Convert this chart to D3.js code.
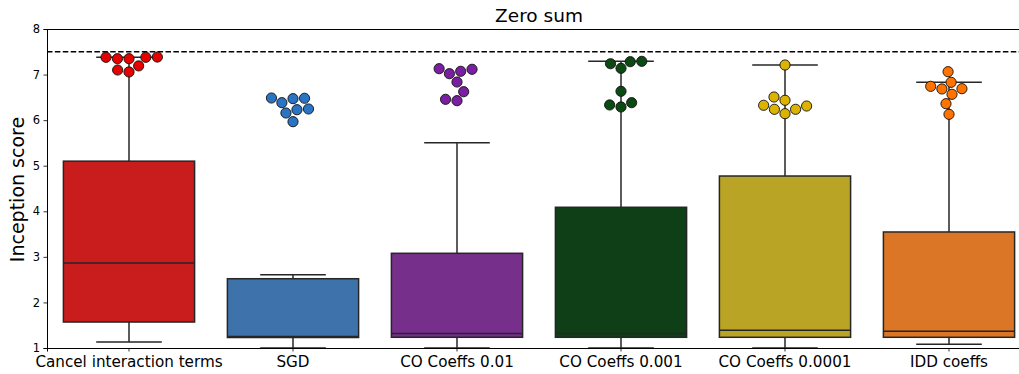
<!DOCTYPE html>
<html>
<head>
<meta charset="utf-8">
<script src="https://cdn.jsdelivr.net/npm/d3@7"></script>
<style>
  html, body { margin: 0; padding: 0; background: #fff; }
  svg { display: block; font-family: "DejaVu Sans", sans-serif; }
</style>
</head>
<body>
<svg id="chart" width="1019" height="374"></svg>
<script>
// Methods compared
const categories = ["Cancel interaction terms", "SGD", "CO Coeffs 0.01", "CO Coeffs 0.001", "CO Coeffs 0.0001", "IDD coeffs"];

// Box statistics over the training runs
const whiskerLow  = [1.13, 1.00, 1.00, 1.00, 1.00, 1.08];
const q1          = [1.57, 1.23, 1.235, 1.235, 1.235, 1.235];
const median      = [2.865, 1.25, 1.32, 1.32, 1.388, 1.365];
const q3          = [5.10, 2.52, 3.078, 4.088, 4.774, 3.546];
const whiskerHigh = [7.38, 2.61, 5.505, 7.29, 7.21, 6.83];

// Final scores of each run (swarm)
const finalCancel = [7.379, 7.348, 7.348, 7.379, 7.385, 7.10, 7.057, 7.19];
const finalSGD    = [6.48, 6.383, 6.471, 6.486, 6.157, 6.229, 6.245, 5.966];
const finalCO1    = [7.129, 7.019, 7.072, 7.116, 6.837, 6.624, 6.457, 6.427];
const finalCO2    = [7.238, 7.137, 7.282, 7.291, 6.633, 6.333, 6.289, 6.383];
const finalCO3    = [7.21, 6.508, 6.436, 6.326, 6.238, 6.238, 6.31, 6.142];
const finalIDD    = [7.063, 6.83, 6.69, 6.684, 6.742, 6.567, 6.361, 6.128];
const finalScores = [finalCancel, finalSGD, finalCO1, finalCO2, finalCO3, finalIDD];

// Reference score line
const referenceScore = 7.5;

const yTicks = [1, 2, 3, 4, 5, 6, 7, 8];

const boxColors   = ["#c91d1d", "#3d72aa", "#762f8b", "#0e3f16", "#b9a425", "#db7627"];
const pointColors = ["#e60000", "#2a74c4", "#7b1fa2", "#0b4a12", "#dcb300", "#ff7300"];

const svg = d3.select("#chart");
const marginLeft = 47, marginTop = 29, plotH = 319, step = 164;
const plotRight = marginLeft + step * categories.length;

const x = d3.scaleBand().domain(categories).range([marginLeft, plotRight]).paddingInner(0).paddingOuter(0);
const y = d3.scaleLinear().domain([1, 8]).range([marginTop + plotH, marginTop]);
const boxW = x.bandwidth() * 0.8;
const cx = c => x(c) + x.bandwidth() / 2;
const lineColor = "#262626";

const plot = svg.append("g");

// Whiskers, caps, boxes and medians
categories.forEach((c, i) => {
  const g = plot.append("g");
  g.append("line").attr("x1", cx(c)).attr("x2", cx(c)).attr("y1", y(whiskerLow[i])).attr("y2", y(q1[i]))
    .attr("stroke", lineColor).attr("stroke-width", 1.5);
  g.append("line").attr("x1", cx(c)).attr("x2", cx(c)).attr("y1", y(q3[i])).attr("y2", y(whiskerHigh[i]))
    .attr("stroke", lineColor).attr("stroke-width", 1.5);
  [whiskerLow[i], whiskerHigh[i]].forEach(v => {
    g.append("line").attr("x1", cx(c) - boxW / 4).attr("x2", cx(c) + boxW / 4)
      .attr("y1", y(v)).attr("y2", y(v)).attr("stroke", lineColor).attr("stroke-width", 1.5);
  });
  g.append("rect").attr("x", cx(c) - boxW / 2).attr("width", boxW)
    .attr("y", y(q3[i])).attr("height", y(q1[i]) - y(q3[i]))
    .attr("fill", boxColors[i]).attr("stroke", lineColor).attr("stroke-width", 1.5);
  g.append("line").attr("x1", cx(c) - boxW / 2).attr("x2", cx(c) + boxW / 2)
    .attr("y1", y(median[i])).attr("y2", y(median[i])).attr("stroke", lineColor).attr("stroke-width", 1.5);
});

// Reference line
plot.append("line").attr("x1", marginLeft).attr("x2", plotRight)
  .attr("y1", y(referenceScore)).attr("y2", y(referenceScore))
  .attr("stroke", "#000").attr("stroke-width", 1.5).attr("stroke-dasharray", "5.5,2.4");

// Beeswarm placement (points sorted by value, each at the nearest free offset)
const R = 5.5;
function beeswarm(values, center) {
  const pts = values.map((v, k) => ({ k, v, py: -y(v) }));
  const sorted = pts.slice().sort((a, b) => a.py - b.py);
  const swarm = [];
  sorted.forEach((p, idx) => {
    if (idx === 0) { swarm.push({ x: center, py: p.py, k: p.k, v: p.v }); return; }
    const neighbors = [];
    for (let j = swarm.length - 1; j >= 0; j--) {
      if (p.py - swarm[j].py < 2 * R) neighbors.push(swarm[j]); else break;
    }
    const cands = [center];
    let leftFirst = true;
    neighbors.forEach(n => {
      const dy = p.py - n.py;
      const dx = Math.sqrt(Math.max(4 * R * R - dy * dy, 0)) * 1.05;
      if (leftFirst) cands.push(n.x - dx, n.x + dx); else cands.push(n.x + dx, n.x - dx);
      leftFirst = !leftFirst;
    });
    const ordered = cands.map((cxv, ci) => ({ cxv, ci, off: Math.abs(cxv - center) }))
      .sort((a, b) => a.off - b.off || a.ci - b.ci);
    let chosen = center;
    for (const cand of ordered) {
      const ok = neighbors.every(n => {
        const dx = n.x - cand.cxv, dy = n.py - p.py;
        return dx * dx + dy * dy >= 4 * R * R - 1e-9;
      });
      if (ok) { chosen = cand.cxv; break; }
    }
    swarm.push({ x: chosen, py: p.py, k: p.k, v: p.v });
  });
  return swarm;
}

categories.forEach((c, i) => {
  const placed = beeswarm(finalScores[i], cx(c));
  plot.append("g").selectAll("circle").data(placed).join("circle")
    .attr("cx", d => d.x).attr("cy", d => y(d.v)).attr("r", 5.1)
    .attr("fill", pointColors[i]).attr("stroke", "#111").attr("stroke-width", 0.9);
});

// Axes
const yAxis = d3.axisLeft(y).tickValues(yTicks).tickSize(3.5).tickPadding(3.5).tickFormat(d3.format("d"));
const gy = svg.append("g").attr("transform", `translate(${marginLeft},0)`).call(yAxis);
gy.selectAll("text").attr("font-size", 11.5).attr("fill", "#000").attr("font-family", "DejaVu Sans");
gy.selectAll("line").attr("stroke", "#000").attr("stroke-width", 0.8);
gy.select(".domain").attr("stroke", "#000").attr("stroke-width", 1);

const xAxis = d3.axisBottom(x).tickSize(3.5).tickPadding(5);
const gx = svg.append("g").attr("transform", `translate(0,${marginTop + plotH})`).call(xAxis);
gx.selectAll("text").attr("font-size", 15.2).attr("fill", "#000").attr("font-family", "DejaVu Sans");
gx.selectAll("line").attr("stroke", "#000").attr("stroke-width", 0.8);
gx.select(".domain").attr("stroke", "#000").attr("stroke-width", 1);

// Top spine
svg.append("line").attr("x1", marginLeft).attr("x2", plotRight).attr("y1", marginTop + 0.5).attr("y2", marginTop + 0.5)
  .attr("stroke", "#000").attr("stroke-width", 1);

// Title and y label
svg.append("text").attr("x", (marginLeft + plotRight) / 2).attr("y", 22).attr("text-anchor", "middle")
  .attr("font-size", 18.5).attr("fill", "#000").text("Zero sum");
svg.append("text").attr("transform", `translate(24,${marginTop + plotH / 2 + 1}) rotate(-90)`)
  .attr("text-anchor", "middle").attr("font-size", 19).attr("fill", "#000").text("Inception score");
</script>
</body>
</html>
